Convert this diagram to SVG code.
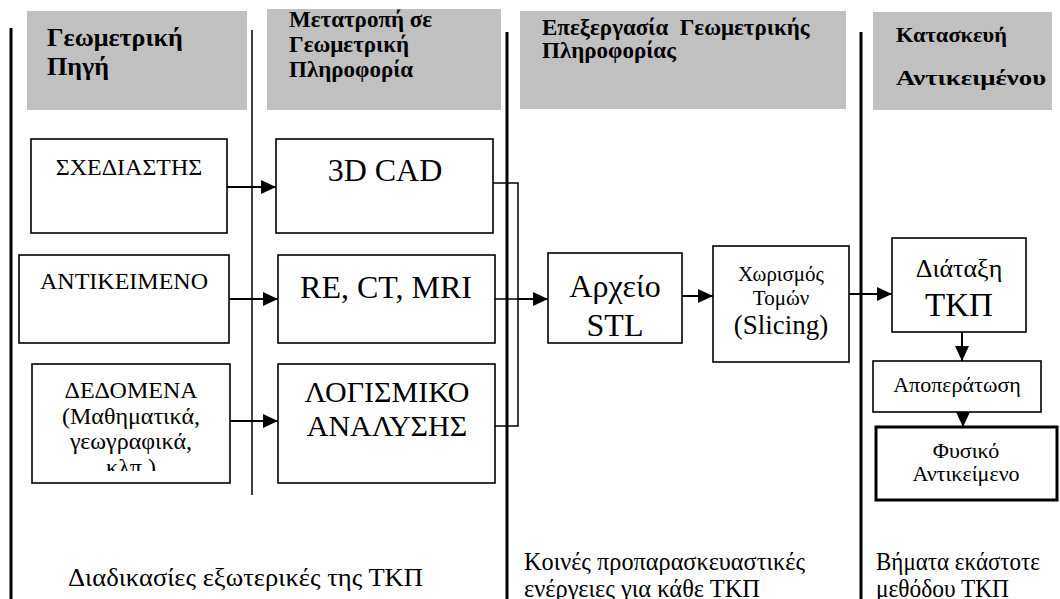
<svg xmlns="http://www.w3.org/2000/svg" width="1060" height="599" viewBox="0 0 1060 599">
  <style>
    .hdr { fill: #c0c0c0; }
    .ht { font-family: "Liberation Serif", "Times New Roman", serif; font-weight: bold; fill: #000; }
    .t { font-family: "Liberation Serif", "Times New Roman", serif; fill: #000; }
    .c { text-anchor: middle; }
    .box { fill: #fff; stroke: #000; stroke-width: 1.6; }
    .boxb { fill: #fff; stroke: #000; stroke-width: 3; }
    .sep { stroke: #000; stroke-width: 3; }
    .septhin { stroke: #000; stroke-width: 1.5; }
    .bus { fill: none; stroke: #000; stroke-width: 1.5; }
    .arr { fill: none; stroke: #000; stroke-width: 2; marker-end: url(#ah); }
  </style>
  <defs>
    <marker id="ah" markerWidth="15" markerHeight="14" refX="15" refY="7" orient="auto" markerUnits="userSpaceOnUse">
      <path d="M0,0 L15,7 L0,14 Z" fill="#000"/>
    </marker>
    <!-- inner margin of the data box: the last line is cut off -->
    <clipPath id="clipData">
      <rect x="32" y="364" width="198" height="107"/>
    </clipPath>
  </defs>
  <rect width="1060" height="599" fill="#fff"/>

  <!-- column headers -->
  <g id="header-source">
    <rect class="hdr" x="27" y="11" width="220" height="99"/>
    <text class="ht" x="47" y="46" font-size="26">Γεωμετρική</text>
    <text class="ht" x="47" y="75" font-size="26">Πηγή</text>
  </g>
  <g id="header-conversion">
    <rect class="hdr" x="267" y="9" width="234" height="101"/>
    <text class="ht" x="289" y="27" font-size="23">Μετατροπή σε</text>
    <text class="ht" x="289" y="52" font-size="23">Γεωμετρική</text>
    <text class="ht" x="289" y="77" font-size="23">Πληροφορία</text>
  </g>
  <g id="header-processing">
    <rect class="hdr" x="520" y="11" width="326" height="98"/>
    <text class="ht" x="542" y="35" font-size="23" xml:space="preserve">Επεξεργασία  Γεωμετρικής</text>
    <text class="ht" x="542" y="58" font-size="23">Πληροφορίας</text>
  </g>
  <g id="header-build">
    <rect class="hdr" x="873" y="12" width="179" height="98"/>
    <text class="ht" x="896" y="42" font-size="22" textLength="111" lengthAdjust="spacingAndGlyphs">Κατασκευή</text>
    <text class="ht" x="896" y="85" font-size="22" textLength="150" lengthAdjust="spacingAndGlyphs">Αντικειμένου</text>
  </g>

  <!-- column separators -->
  <g id="separators">
    <line class="sep" x1="11" y1="28" x2="11" y2="599"/>
    <line class="septhin" x1="252" y1="30" x2="252" y2="495"/>
    <line class="sep" x1="507" y1="32" x2="507" y2="599"/>
    <line class="sep" x1="861" y1="32" x2="861" y2="599"/>
  </g>

  <!-- geometric sources -->
  <g id="designer">
    <rect class="box" x="31" y="139" width="196" height="94"/>
    <text class="t c" x="129" y="175" font-size="24">ΣΧΕΔΙΑΣΤΗΣ</text>
  </g>
  <g id="object">
    <rect class="box" x="19" y="255" width="210" height="88"/>
    <text class="t c" x="124" y="289" font-size="24">ΑΝΤΙΚΕΙΜΕΝΟ</text>
  </g>
  <g id="data">
    <rect class="box" x="32" y="364" width="198" height="119"/>
    <g clip-path="url(#clipData)">
      <text class="t c" x="131" y="398" font-size="24">ΔΕΔΟΜΕΝΑ</text>
      <text class="t c" x="131" y="424" font-size="24">(Μαθηματικά,</text>
      <text class="t c" x="131" y="449" font-size="24">γεωγραφικά,</text>
      <text class="t c" x="131" y="475" font-size="24">κλπ.)</text>
    </g>
  </g>

  <!-- conversion to geometric information -->
  <g id="cad">
    <rect class="box" x="276" y="139" width="217" height="94"/>
    <text class="t c" x="385" y="181" font-size="32">3D CAD</text>
  </g>
  <g id="scan">
    <rect class="box" x="278" y="255" width="217" height="88"/>
    <text class="t c" x="386" y="298" font-size="32">RE, CT, MRI</text>
  </g>
  <g id="analysis">
    <rect class="box" x="278" y="364" width="217" height="119"/>
    <text class="t c" x="387" y="402" font-size="30">ΛΟΓΙΣΜΙΚΟ</text>
    <text class="t c" x="387" y="436" font-size="30">ΑΝΑΛΥΣΗΣ</text>
  </g>

  <!-- processing -->
  <g id="stl">
    <rect class="box" x="548" y="253" width="134" height="90"/>
    <text class="t c" x="615" y="297" font-size="32">Αρχείο</text>
    <text class="t c" x="615" y="336" font-size="32">STL</text>
  </g>
  <g id="slicing">
    <rect class="box" x="713" y="246" width="136" height="116"/>
    <text class="t c" x="781" y="281" font-size="21">Χωρισμός</text>
    <text class="t c" x="781" y="305" font-size="21">Τομών</text>
    <text class="t c" x="781" y="334" font-size="27">(Slicing)</text>
  </g>

  <!-- build -->
  <g id="orientation">
    <rect class="box" x="892" y="238" width="134" height="94"/>
    <text class="t c" x="959" y="277" font-size="26">Διάταξη</text>
    <text class="t c" x="959" y="316" font-size="33">ΤΚΠ</text>
  </g>
  <g id="finishing">
    <rect class="box" x="873" y="361" width="168" height="51"/>
    <text class="t c" x="957" y="392" font-size="22">Αποπεράτωση</text>
  </g>
  <g id="physical">
    <rect class="boxb" x="876" y="427" width="181" height="73"/>
    <text class="t c" x="966" y="458" font-size="22">Φυσικό</text>
    <text class="t c" x="966" y="481" font-size="22">Αντικείμενο</text>
  </g>

  <!-- footer notes -->
  <g id="notes">
    <text class="t" x="68" y="586" font-size="25" textLength="355" lengthAdjust="spacingAndGlyphs">Διαδικασίες εξωτερικές της ΤΚΠ</text>
    <text class="t" x="524" y="570" font-size="25" textLength="281" lengthAdjust="spacingAndGlyphs">Κοινές προπαρασκευαστικές</text>
    <text class="t" x="524" y="597" font-size="25" textLength="236" lengthAdjust="spacingAndGlyphs">ενέργειες για κάθε ΤΚΠ</text>
    <text class="t" x="876" y="570" font-size="25" textLength="164" lengthAdjust="spacingAndGlyphs">Βήματα εκάστοτε</text>
    <text class="t" x="876" y="597" font-size="25" textLength="133" lengthAdjust="spacingAndGlyphs">μεθόδου ΤΚΠ</text>
  </g>

  <!-- connectors -->
  <g id="connectors">
    <line class="arr" x1="227" y1="187" x2="276" y2="187"/>
    <line class="arr" x1="229" y1="299" x2="278" y2="299"/>
    <line class="arr" x1="230" y1="421" x2="278" y2="421"/>
    <polyline class="bus" points="493,183 518,183 518,426 495,426"/>
    <line class="bus" x1="495" y1="299" x2="518" y2="299"/>
    <line class="arr" x1="518" y1="299" x2="548" y2="299"/>
    <line class="arr" x1="682" y1="296" x2="713" y2="296"/>
    <line class="arr" x1="849" y1="294" x2="892" y2="294"/>
    <line class="arr" x1="962" y1="332" x2="962" y2="361"/>
    <line class="arr" x1="963" y1="412" x2="963" y2="427"/>
  </g>
</svg>
